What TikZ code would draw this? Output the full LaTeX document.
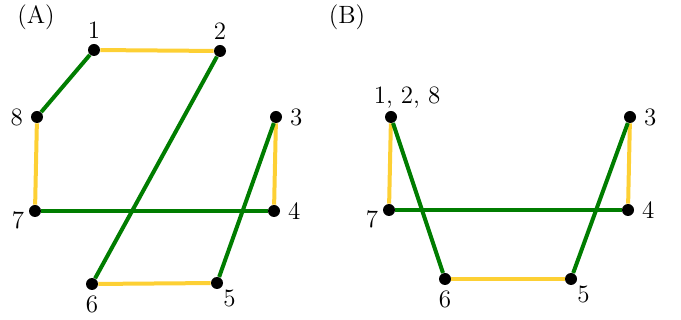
\documentclass[tikz,border=0pt]{standalone}
\usepackage{amsmath,amssymb}
\usepackage{tikz}

\definecolor{edgegreen}{RGB}{0,125,0}
\definecolor{edgegold}{RGB}{253,208,52}

\begin{document}
\begin{tikzpicture}[x=0.5pt, y=-0.5pt, font=\fontsize{12.5}{15}\selectfont,
  every node/.style={circle, fill=black, minimum size=6pt, inner sep=0pt,
  label distance=1.5pt},
  gr/.style={line width=2pt, edgegreen},
  yl/.style={line width=2pt, edgegold}]
  \useasboundingbox (0,0) rectangle (681,320);
  % panel (A)
  \node[fill=none, minimum size=0pt] (tA) at (36,17) {(A)};
  \node[label=above:1] (a1) at (94,50) {};
  \node[label=above:2] (a2) at (220,51) {};
  \node[label=right:3] (a3) at (276,117) {};
  \node[label=right:4] (a4) at (274,211) {};
  \node[label=-60:5] (a5) at (217,283) {};
  \node[label=below:6] (a6) at (92,284) {};
  \node[label=190:7] (a7) at (35,211) {};
  \node[label=left:8] (a8) at (37,117) {};
  \draw[yl] (a1)--(a2);
  \draw[gr] (a1)--(a8);
  \draw[yl] (a8)--(a7);
  \draw[gr] (a7)--(a4);
  \draw[gr] (a2)--(a6);
  \draw[yl] (a3)--(a4);
  \draw[gr] (a3)--(a5);
  \draw[yl] (a6)--(a5);
  % panel (B)
  \node[fill=none, minimum size=0pt] (tB) at (347,17) {(B)};
  \node[label={[xshift=-4.5pt, yshift=-3pt, label distance=-3pt]70:{1, 2, 8}}] (b1) at (391,117) {};
  \node[label=right:3] (b3) at (630,117) {};
  \node[label=right:4] (b4) at (628,210) {};
  \node[label=-60:5] (b5) at (571,279) {};
  \node[label=below:6] (b6) at (445,279) {};
  \node[label=190:7] (b7) at (389,210) {};
  \draw[yl] (b1)--(b7);
  \draw[gr] (b1)--(b6);
  \draw[gr] (b7)--(b4);
  \draw[yl] (b3)--(b4);
  \draw[gr] (b3)--(b5);
  \draw[yl] (b6)--(b5);
\end{tikzpicture}
\end{document}
